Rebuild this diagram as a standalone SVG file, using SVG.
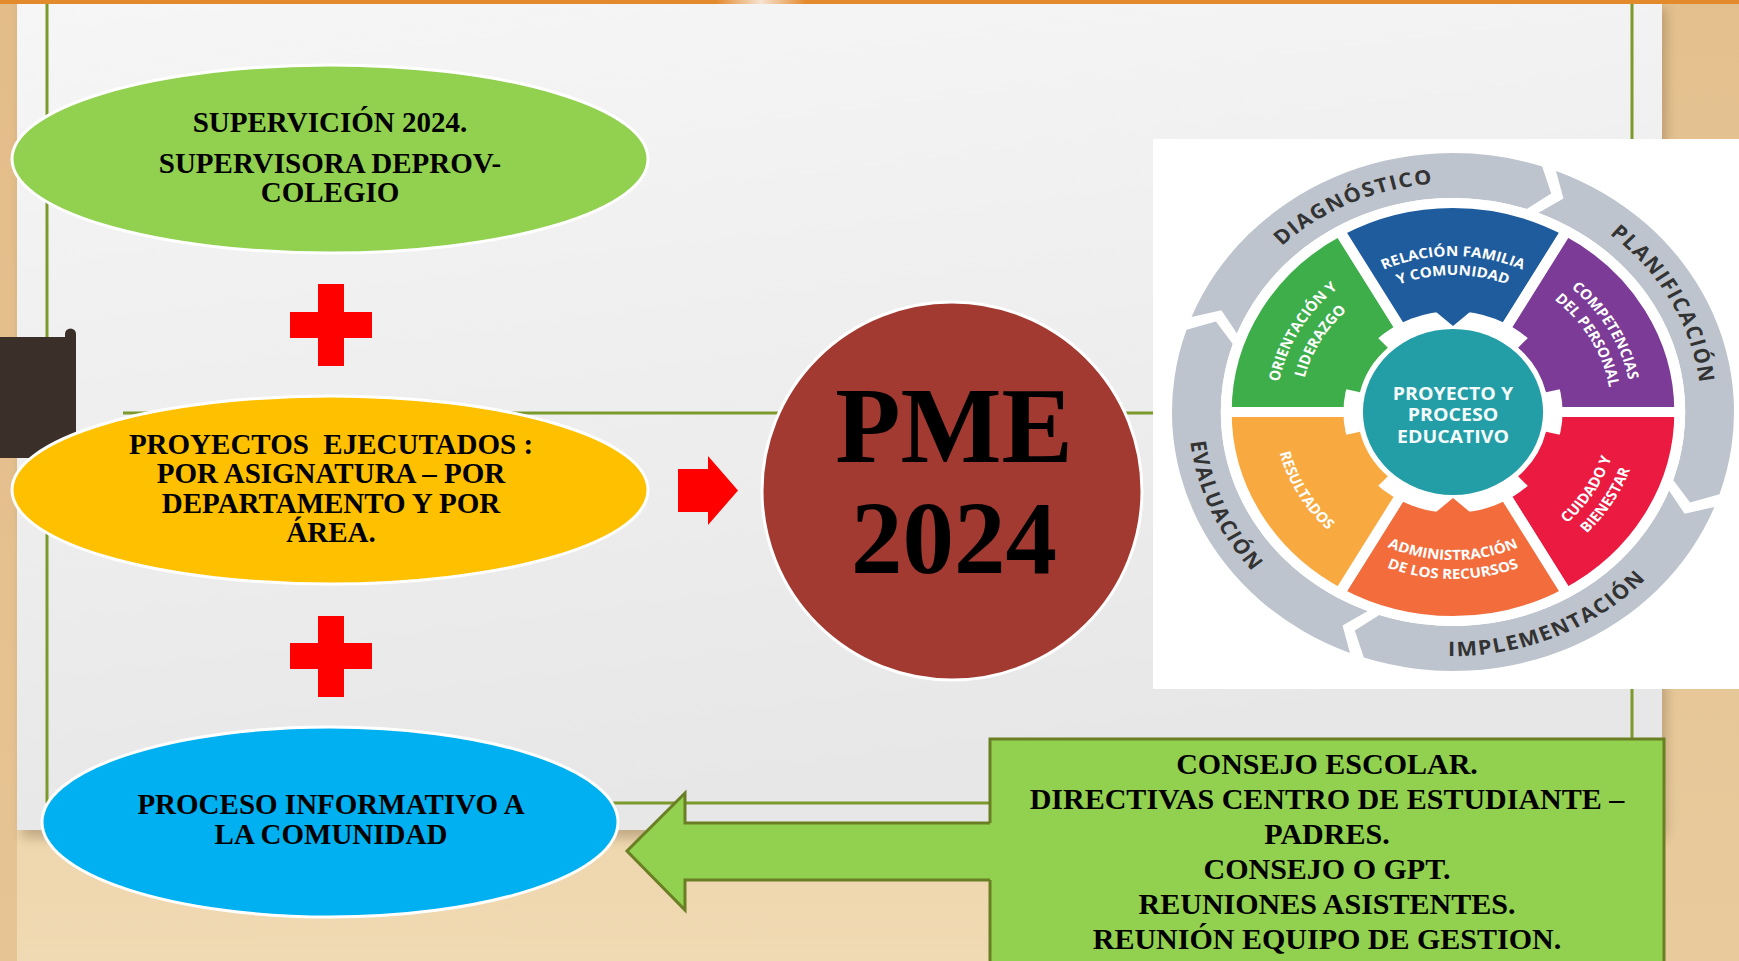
<svg xmlns="http://www.w3.org/2000/svg" width="1739" height="961" viewBox="0 0 1739 961">
<defs>
<style>
.serif{font-family:"Liberation Serif","Times New Roman",serif;font-weight:bold;fill:#000;text-anchor:middle}
.t29{font-size:29px}
.t30{font-size:30px}
.frame{stroke:#7C9A2B;stroke-width:3;fill:none}
.ell{stroke:#FFFFFF;stroke-width:3}
.plus{fill:#FF0000}
.ring{fill:#BDC4CD}
.ringtxt{font-family:"Open Sans","DejaVu Sans",sans-serif;font-weight:700;font-size:20px;fill:#333333;letter-spacing:1.5px;text-anchor:middle}
.sector{stroke:#FFFFFF;stroke-width:10;stroke-linejoin:round}
.segtxt{font-family:"Open Sans","DejaVu Sans",sans-serif;font-weight:700;font-size:14px;fill:#FFFFFF;text-anchor:middle}
.tealtxt{font-family:"Open Sans","DejaVu Sans",sans-serif;font-weight:700;font-size:18px;fill:#F4FBFB;text-anchor:middle}
.garrow{fill:#92D050}
.gstroke{fill:none;stroke:#6A7F24;stroke-width:3;stroke-linejoin:miter}
</style>
<linearGradient id="paperGrad" x1="0" y1="0" x2="0.25" y2="1">
<stop offset="0" stop-color="#F6F6F6"/>
<stop offset="1" stop-color="#E7E7E7"/>
</linearGradient>
<linearGradient id="woodGrad" x1="0" y1="0" x2="0" y2="1">
<stop offset="0" stop-color="#E4C08F"/>
<stop offset="1" stop-color="#F0DAB3"/>
</linearGradient>
<linearGradient id="orangeFade" x1="0" y1="0" x2="1" y2="0">
<stop offset="0" stop-color="#E38A2C"/>
<stop offset="0.5" stop-color="#F6E3CF"/>
<stop offset="1" stop-color="#E38A2C"/>
</linearGradient>
<filter id="blur6" x="-5%" y="-5%" width="110%" height="115%">
<feGaussianBlur stdDeviation="6"/>
</filter>
<path id="ringArc" d="M-240.98,-94.92 A259,259 0 0 1 82.18,-245.61 L90.50,-218.50 L67.90,-202.94 A214,214 0 0 0 -199.11,-78.43 L-213.46,-101.82 Z"/>
<path id="innerExt" d="M97.54,-29.82 A102,102 0 0 1 97.54,29.82 L84.15,25.73 A88,88 0 0 0 84.15,-25.73 Z"/>
<path id="innerPoint" d="M104,-20 L86,0 L104,20 Z"/>
<path id="pDiag" d="M-220.13,-63.12 A229,229 0 0 1 100.39,-205.82"/>
<path id="pPlan" d="M43.70,-224.79 A229,229 0 0 1 213.79,82.07"/>
<path id="pImpl" d="M-110.77,217.41 A244,244 0 0 0 233.34,71.34"/>
<path id="pEval" d="M-219.30,-106.96 A244,244 0 0 0 -67.26,234.55"/>
<path id="pRel1" d="M-110.31,-110.31 A156,156 0 0 1 110.31,-110.31"/>
<path id="pRel2" d="M-96.87,-96.87 A137,137 0 0 1 96.87,-96.87"/>
<path id="pOri1" d="M-157.45,42.19 A163,163 0 0 1 -42.19,-157.45"/>
<path id="pOri2" d="M-136.19,36.49 A141,141 0 0 1 -36.49,-136.19"/>
<path id="pCom1" d="M42.71,-159.38 A165,165 0 0 1 159.38,42.71"/>
<path id="pCom2" d="M37.79,-141.02 A146,146 0 0 1 141.02,37.79"/>
<path id="pCui1" d="M34.41,149.08 A153,153 0 0 0 149.08,-34.41"/>
<path id="pCui2" d="M38.92,168.56 A173,173 0 0 0 168.56,-38.92"/>
<path id="pAdm1" d="M-104.65,104.65 A148,148 0 0 0 104.65,104.65"/>
<path id="pAdm2" d="M-118.09,118.09 A167,167 0 0 0 118.09,118.09"/>
<path id="pRes" d="M-159.38,-42.71 A165,165 0 0 0 -42.71,159.38"/>
</defs>

<g id="background">
<rect x="0" y="0" width="1739" height="961" fill="url(#woodGrad)"/>
<rect x="0" y="0" width="17" height="961" fill="#E2BA86" opacity="0.7"/>
<rect x="1662" y="0" width="77" height="961" fill="#E3BF8E" opacity="0.6"/>
<rect x="22" y="8" width="1644" height="830" fill="#6B5638" opacity="0.35" filter="url(#blur6)"/>
<rect x="17" y="0" width="1645" height="830" fill="url(#paperGrad)"/>
<rect x="0" y="0" width="1739" height="4" fill="#E38A2C"/>
<rect x="716" y="0" width="90" height="4" fill="url(#orangeFade)"/>
</g>

<g id="frame">
<line class="frame" x1="47" y1="4" x2="47" y2="803"/>
<line class="frame" x1="1632" y1="4" x2="1632" y2="803"/>
<line class="frame" x1="123" y1="413" x2="1632" y2="413"/>
<line class="frame" x1="47" y1="803" x2="1632" y2="803"/>
<path d="M0,337 H65 V334 A5.5,5.5 0 0 1 76,334 V458 H0 Z" fill="#3A3029"/>
</g>

<g id="supervision">
<ellipse class="ell" cx="330" cy="159" rx="318" ry="94" fill="#92D050"/>
<text class="serif t29" x="330" y="132">SUPERVICIÓN 2024.</text>
<text class="serif t29" x="330" y="173">SUPERVISORA DEPROV-</text>
<text class="serif t29" x="330" y="202">COLEGIO</text>
</g>

<g id="plus-1">
<path class="plus" d="M318,284 H344 V312 H372 V338 H344 V366 H318 V338 H290 V312 H318 Z"/>
</g>

<g id="proyectos">
<ellipse class="ell" cx="330" cy="490" rx="318" ry="94" fill="#FFC000"/>
<text class="serif t29" x="331" y="454" xml:space="preserve">PROYECTOS  EJECUTADOS :</text>
<text class="serif t29" x="331" y="483">POR ASIGNATURA – POR</text>
<text class="serif t29" x="331" y="513">DEPARTAMENTO Y POR</text>
<text class="serif t29" x="331" y="542">ÁREA.</text>
</g>

<g id="plus-2">
<path class="plus" d="M318,616 H344 V643 H372 V669 H344 V697 H318 V669 H290 V643 H318 Z"/>
</g>

<g id="proceso">
<ellipse class="ell" cx="330" cy="822" rx="288" ry="95" fill="#00B0F0"/>
<text class="serif t29" x="331" y="814">PROCESO INFORMATIVO A</text>
<text class="serif t29" x="331" y="844">LA COMUNIDAD</text>
</g>

<g id="pme">
<ellipse class="ell" cx="952" cy="491" rx="190" ry="189" fill="#A23A32"/>
<text class="serif" x="954" y="462" font-size="107">PME</text>
<text class="serif" x="954" y="573" font-size="103">2024</text>
</g>

<g id="pme-wheel">
<rect x="1153" y="139" width="586" height="550" fill="#FFFFFF"/>
<g transform="translate(1453,412) scale(1.085,1)">
<use href="#ringArc" class="ring"/>
<use href="#ringArc" class="ring" transform="rotate(90)"/>
<use href="#ringArc" class="ring" transform="rotate(180)"/>
<use href="#ringArc" class="ring" transform="rotate(270)"/>
<text class="ringtxt"><textPath href="#pDiag" startOffset="50%">DIAGNÓSTICO</textPath></text>
<text class="ringtxt"><textPath href="#pPlan" startOffset="50%">PLANIFICACIÓN</textPath></text>
<text class="ringtxt"><textPath href="#pImpl" startOffset="50%">IMPLEMENTACIÓN</textPath></text>
<text class="ringtxt"><textPath href="#pEval" startOffset="50%">EVALUACIÓN</textPath></text>
<path class="sector" fill="#3DAE49" d="M0,0 L-209,0 A209,209 0 0 1 -104.5,-181 Z"/>
<path class="sector" fill="#1E5C9E" d="M0,0 L-104.5,-181 A209,209 0 0 1 104.5,-181 Z"/>
<path class="sector" fill="#7B3B96" d="M0,0 L104.5,-181 A209,209 0 0 1 209,0 Z"/>
<path class="sector" fill="#EA1A40" d="M0,0 L209,0 A209,209 0 0 1 104.5,181 Z"/>
<path class="sector" fill="#F26C3C" d="M0,0 L104.5,181 A209,209 0 0 1 -104.5,181 Z"/>
<path class="sector" fill="#F8A940" d="M0,0 L-104.5,181 A209,209 0 0 1 -209,0 Z"/>
<circle cx="0" cy="0" r="101" fill="#FFFFFF"/>
<use href="#innerExt" fill="#3DAE49" transform="rotate(210)"/>
<use href="#innerExt" fill="#7B3B96" transform="rotate(330)"/>
<use href="#innerExt" fill="#EA1A40" transform="rotate(30)"/>
<use href="#innerExt" fill="#F8A940" transform="rotate(150)"/>
<use href="#innerPoint" fill="#1E5C9E" transform="rotate(270)"/>
<use href="#innerPoint" fill="#F26C3C" transform="rotate(90)"/>
<circle cx="0" cy="0" r="83" fill="#239EA7"/>
<text class="tealtxt" x="0" y="-12.5">PROYECTO Y</text>
<text class="tealtxt" x="0" y="9">PROCESO</text>
<text class="tealtxt" x="0" y="31.5">EDUCATIVO</text>
<text class="segtxt"><textPath href="#pRel1" startOffset="50%">RELACIÓN FAMILIA</textPath></text>
<text class="segtxt"><textPath href="#pRel2" startOffset="50%">Y COMUNIDAD</textPath></text>
<text class="segtxt"><textPath href="#pOri1" startOffset="50%">ORIENTACIÓN Y</textPath></text>
<text class="segtxt"><textPath href="#pOri2" startOffset="50%">LIDERAZGO</textPath></text>
<text class="segtxt"><textPath href="#pCom1" startOffset="50%">COMPETENCIAS</textPath></text>
<text class="segtxt"><textPath href="#pCom2" startOffset="50%">DEL PERSONAL</textPath></text>
<text class="segtxt"><textPath href="#pCui1" startOffset="50%">CUIDADO Y</textPath></text>
<text class="segtxt"><textPath href="#pCui2" startOffset="50%">BIENESTAR</textPath></text>
<text class="segtxt"><textPath href="#pAdm1" startOffset="50%">ADMINISTRACIÓN</textPath></text>
<text class="segtxt"><textPath href="#pAdm2" startOffset="50%">DE LOS RECURSOS</textPath></text>
<text class="segtxt"><textPath href="#pRes" startOffset="50%">RESULTADOS</textPath></text>
</g>
</g>

<g id="consejo">
<rect x="990" y="739" width="674" height="240" fill="#92D050" stroke="#6A7F24" stroke-width="3"/>
<text class="serif t30" x="1327" y="774">CONSEJO ESCOLAR.</text>
<text class="serif t30" x="1327" y="809">DIRECTIVAS CENTRO DE ESTUDIANTE –</text>
<text class="serif t30" x="1327" y="844">PADRES.</text>
<text class="serif t30" x="1327" y="879">CONSEJO O GPT.</text>
<text class="serif t30" x="1327" y="914">REUNIONES ASISTENTES.</text>
<text class="serif t30" x="1327" y="949">REUNIÓN EQUIPO DE GESTION.</text>
</g>

<g id="connectors">
<path id="arrow-to-pme" d="M678,469 H708 V456 L738,490.5 L708,525 V512 H678 Z" fill="#FF0000"/>
<g id="arrow-to-proceso">
<path class="garrow" d="M992,823 H685 V793 L627,851 L685,910 V880 H992 Z"/>
<path class="gstroke" d="M990,823 H685 V793 L627,851 L685,910 V880 H990"/>
</g>
</g>
</svg>
